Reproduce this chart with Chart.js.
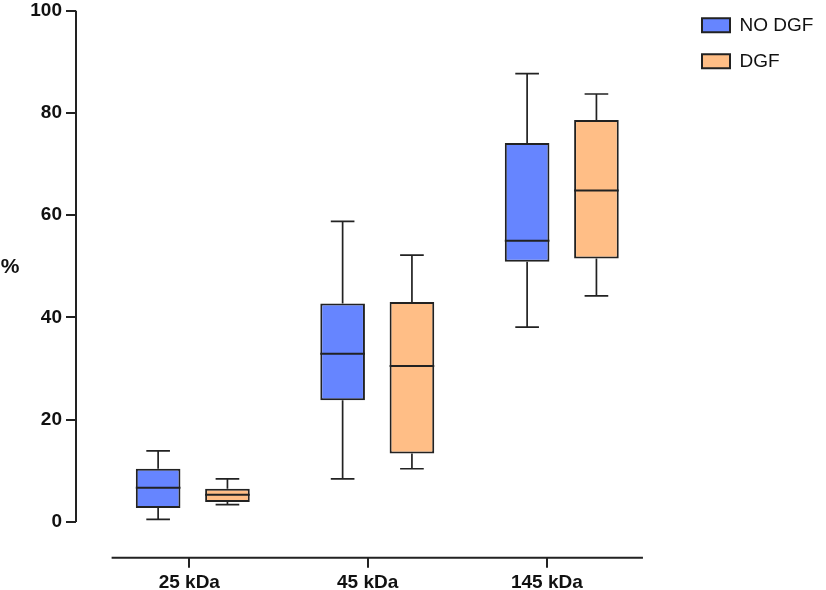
<!DOCTYPE html>
<html>
<head>
<meta charset="utf-8">
<script src="https://cdn.jsdelivr.net/npm/chart.js@4.4.1/dist/chart.umd.min.js"></script>
<style>
  html, body { margin: 0; padding: 0; background: #fff; }
  #wrap { width: 826px; height: 590px; position: relative; }
</style>
</head>
<body>
<div id="wrap"><canvas id="boxChart"></canvas></div>
<script>
const categories = ["25 kDa", "45 kDa", "145 kDa"];
const yTicks = [0, 20, 40, 60, 80, 100];

// NO DGF: whisker low, Q1, median, Q3, whisker high
const noDgfMin = [0.5, 8.4, 38.1];
const noDgfQ1 = [2.7, 23.8, 50.9];
const noDgfMed = [6.7, 32.9, 55.0];
const noDgfQ3 = [10.4, 42.7, 74.1];
const noDgfMax = [13.9, 58.8, 87.7];

// DGF
const dgfMin = [3.4, 10.4, 44.2];
const dgfQ1 = [3.9, 13.4, 51.5];
const dgfMed = [5.3, 30.5, 64.8];
const dgfQ3 = [6.5, 43.0, 78.6];
const dgfMax = [8.4, 52.2, 83.7];

// layout of the x axis (in category units)
const xRange = [-0.633, 2.668];
const tickPos = [-0.019, 0.948, 1.919];
const xLine = [-0.44, 2.44];

Chart.defaults.font.family = "'Liberation Sans', Arial, sans-serif";
Chart.defaults.color = '#111';

function boxData(q1, q3) {
    return categories.map((c, i) => ({ x: i, y: [q1[i], q3[i]] }));
}

// whiskers + median for each box
const boxWhiskers = {
    id: 'boxWhiskers',
    afterDatasetsDraw(chart) {
        const { ctx } = chart;
        const y = chart.scales.y;
        ctx.save();
        ctx.strokeStyle = '#222';
        chart.data.datasets.forEach((ds, di) => {
            chart.getDatasetMeta(di).data.forEach((bar, i) => {
                const { x, width } = bar.getProps(['x', 'width'], true);
                const cap = width * 0.53;
                const yMin = y.getPixelForValue(ds.low[i]);
                const yMax = y.getPixelForValue(ds.high[i]);
                const yQ1 = y.getPixelForValue(ds.data[i].y[0]);
                const yQ3 = y.getPixelForValue(ds.data[i].y[1]);
                const yMed = y.getPixelForValue(ds.median[i]);
                ctx.lineWidth = 1.7;
                ctx.beginPath();
                ctx.moveTo(x, yQ3); ctx.lineTo(x, yMax);
                ctx.moveTo(x, yQ1); ctx.lineTo(x, yMin);
                ctx.moveTo(x - cap / 2, yMax); ctx.lineTo(x + cap / 2, yMax);
                ctx.moveTo(x - cap / 2, yMin); ctx.lineTo(x + cap / 2, yMin);
                ctx.stroke();
                ctx.lineWidth = 2;
                ctx.beginPath();
                ctx.moveTo(x - width / 2, yMed); ctx.lineTo(x + width / 2, yMed);
                ctx.stroke();
            });
        });
        ctx.restore();
    }
};

// axis lines that stop short like the original, plus the "%" title
const axisLines = {
    id: 'axisLines',
    afterDraw(chart) {
        const { ctx, chartArea } = chart;
        const { x, y } = chart.scales;
        ctx.save();
        ctx.strokeStyle = '#222';
        ctx.lineWidth = 2;
        ctx.beginPath();
        ctx.moveTo(chartArea.left, y.getPixelForValue(100));
        ctx.lineTo(chartArea.left, y.getPixelForValue(0));
        ctx.moveTo(x.getPixelForValue(xLine[0]), chartArea.bottom);
        ctx.lineTo(x.getPixelForValue(xLine[1]), chartArea.bottom);
        ctx.stroke();
        ctx.fillStyle = '#111';
        ctx.font = "bold 21px 'Liberation Sans', Arial, sans-serif";
        ctx.textAlign = 'center';
        ctx.textBaseline = 'middle';
        ctx.fillText('%', 10, y.getPixelForValue(50) + 1);
        ctx.restore();
    }
};

const axisGrid = {
    drawOnChartArea: false,
    drawTicks: true,
    tickLength: 10,
    lineWidth: 2,
    color: '#222',
    offset: false
};

new Chart(document.getElementById('boxChart'), {
    type: 'bar',
    data: {
        datasets: [
            {
                label: 'NO DGF',
                data: boxData(noDgfQ1, noDgfQ3),
                low: noDgfMin,
                median: noDgfMed,
                high: noDgfMax,
                backgroundColor: '#6685FF',
                borderColor: '#222',
                borderWidth: 2,
                borderSkipped: false,
                categoryPercentage: 0.777,
                barPercentage: 0.644
            },
            {
                label: 'DGF',
                data: boxData(dgfQ1, dgfQ3),
                low: dgfMin,
                median: dgfMed,
                high: dgfMax,
                backgroundColor: '#FFBE86',
                borderColor: '#222',
                borderWidth: 2,
                borderSkipped: false,
                categoryPercentage: 0.777,
                barPercentage: 0.644
            }
        ]
    },
    options: {
        responsive: true,
        maintainAspectRatio: false,
        animation: false,
        devicePixelRatio: 1,
        layout: { padding: { top: -1.2, right: 2.6, bottom: 0, left: 0 } },
        scales: {
            x: {
                type: 'linear',
                min: xRange[0],
                max: xRange[1],
                offset: false,
                afterBuildTicks: s => { s.ticks = tickPos.map(v => ({ value: v })); },
                afterFit: s => { s.height = 32.3; },
                border: { display: false },
                grid: axisGrid,
                ticks: {
                    autoSkip: false,
                    maxRotation: 0,
                    padding: 4,
                    color: '#111',
                    font: { size: 19, weight: 'bold' },
                    callback: (v, i) => categories[i]
                }
            },
            y: {
                min: -7,
                max: 100,
                afterBuildTicks: s => { s.ticks = yTicks.map(v => ({ value: v })); },
                afterFit: s => { s.width = 76; },
                border: { display: false },
                grid: axisGrid,
                ticks: {
                    padding: 4,
                    color: '#111',
                    font: { size: 19, weight: 'bold', lineHeight: 0.7 }
                }
            }
        },
        plugins: {
            legend: {
                position: 'right',
                align: 'start',
                labels: {
                    boxWidth: 28,
                    boxHeight: 14,
                    padding: 17,
                    color: '#111',
                    font: { size: 19 }
                }
            },
            tooltip: { enabled: false }
        }
    },
    plugins: [boxWhiskers, axisLines]
});
</script>
</body>
</html>
